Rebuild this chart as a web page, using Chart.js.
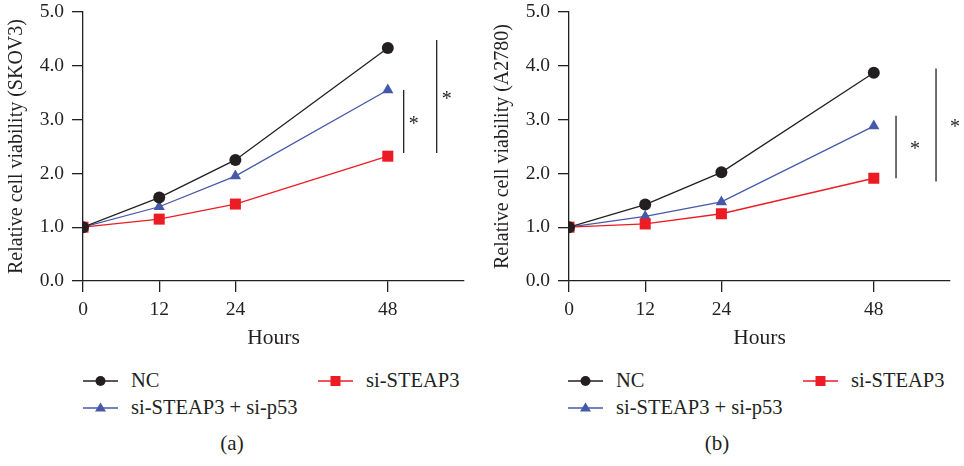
<!DOCTYPE html>
<html>
<head>
<meta charset="utf-8">
<script src="https://cdn.jsdelivr.net/npm/chart.js@4/dist/chart.umd.min.js"></script>
<style>
  body { margin: 0; background: #fff; }
  #wrap { position: relative; width: 964px; height: 466px; overflow: hidden; font-family: "Liberation Serif", "DejaVu Serif", serif; color: #231f20; }
  canvas { position: absolute; top: 0; }
  .leg { position: absolute; display: flex; align-items: center; font-size: 20.5px; white-space: nowrap; }
  .leg svg { margin-right: 13px; }
  .cap { position: absolute; font-size: 21px; transform: translateX(-50%); }
</style>
</head>
<body>
<div id="wrap">
  <canvas id="chartA" width="478" height="360" style="left:0px"></canvas>
  <canvas id="chartB" width="478" height="360" style="left:486px"></canvas>
</div>
<script>
// hours on the x axis
var hours = [0, 12, 24, 48];
var yTicks = [0, 1, 2, 3, 4, 5];

// panel (a) SKOV3
var ncA = [1.0, 1.55, 2.25, 4.33];
var dualA = [1.0, 1.38, 1.95, 3.55];
var steapA = [1.0, 1.15, 1.43, 2.32];

// panel (b) A2780
var ncB = [1.0, 1.42, 2.02, 3.87];
var dualB = [1.0, 1.20, 1.47, 2.88];
var steapB = [1.0, 1.06, 1.25, 1.91];

var seriesNames = ['NC', 'si-STEAP3 + si-p53', 'si-STEAP3'];

// significance bars: x (hours), y from / to
var sigA = [{x: 50.5, y0: 2.38, y1: 3.55}, {x: 55.7, y0: 2.38, y1: 4.48}];
var sigB = [{x: 51.5, y0: 1.91, y1: 3.07}, {x: 57.8, y0: 1.85, y1: 3.95}];

var INK = '#231f20';
var colors = ['#231f20', '#4658a8', '#ec1c24'];
var shapes = ['circle', 'triangle', 'rect'];
var radii = [6, 6.5, 7.8];

function pts(vals) {
    return hours.map(function(h, i) { return {x: h, y: vals[i]}; });
}

var sigPlugin = {
    id: 'sig',
    afterDatasetsDraw: function(chart, args, opts) {
        var ctx = chart.ctx;
        var xs = chart.scales.x, ys = chart.scales.y;
        ctx.save();
        ctx.strokeStyle = INK;
        ctx.lineWidth = 1.3;
        ctx.fillStyle = INK;
        ctx.font = '20px "Liberation Serif"';
        ctx.textAlign = 'center';
        ctx.textBaseline = 'middle';
        opts.bars.forEach(function(b) {
            var px = xs.getPixelForValue(b.x);
            var p0 = ys.getPixelForValue(b.y0), p1 = ys.getPixelForValue(b.y1);
            ctx.beginPath();
            ctx.moveTo(px, p0);
            ctx.lineTo(px, p1);
            ctx.stroke();
            ctx.fillText('*', px + opts.starDx, (p0 + p1) / 2 + 3);
        });
        ctx.restore();
    }
};

function makeChart(id, data, yTitle, bars, starDx) {
    var ctx = document.getElementById(id).getContext('2d');
    var order = [0, 2, 1];
    return new Chart(ctx, {
        type: 'line',
        data: {
            datasets: data.map(function(vals, i) {
                return {
                    label: seriesNames[i],
                    data: pts(vals),
                    borderColor: colors[i],
                    backgroundColor: colors[i],
                    borderWidth: 1.3,
                    pointStyle: shapes[i],
                    pointRadius: radii[i],
                    pointBorderWidth: 0,
                    pointBackgroundColor: colors[i],
                    order: order[i],
                    tension: 0
                };
            })
        },
        plugins: [sigPlugin],
        options: {
            responsive: false,
            animation: false,
            events: [],
            layout: { padding: { left: 0, right: 14, top: 12, bottom: 0 } },
            plugins: {
                legend: { display: false },
                tooltip: { enabled: false },
                sig: { bars: bars, starDx: starDx }
            },
            scales: {
                x: {
                    type: 'linear',
                    min: 0,
                    max: 60,
                    afterBuildTicks: function(s) {
                        s.ticks = hours.map(function(h) { return {value: h}; });
                    },
                    afterFit: function(s) { s.height = 79; s.paddingLeft = 0; s.paddingRight = 0; },
                    grid: { drawOnChartArea: false, tickLength: 11, color: INK, lineWidth: 1.3 },
                    border: { color: INK, width: 1.3 },
                    ticks: { color: INK, padding: 6, font: { family: 'Liberation Serif', size: 19.5 } },
                    title: {
                        display: true,
                        text: 'Hours',
                        color: INK,
                        font: { family: 'Liberation Serif', size: 21.5 },
                        padding: { top: 0, bottom: 9 }
                    }
                },
                y: {
                    min: 0,
                    max: 5,
                    afterBuildTicks: function(s) {
                        s.ticks = yTicks.map(function(v) { return {value: v}; });
                    },
                    afterFit: function(s) { s.width = 83; s.paddingTop = 0; s.paddingBottom = 0; },
                    grid: { drawOnChartArea: false, tickLength: 11, color: INK, lineWidth: 1.3 },
                    border: { color: INK, width: 1.3 },
                    ticks: {
                        color: INK,
                        padding: 8,
                        font: { family: 'Liberation Serif', size: 19.5 },
                        callback: function(v) { return v.toFixed(1); }
                    },
                    title: {
                        display: true,
                        text: yTitle,
                        color: INK,
                        font: { family: 'Liberation Serif', size: 20 },
                        padding: { top: 5, bottom: 0 }
                    }
                }
            }
        }
    });
}

makeChart('chartA', [ncA, dualA, steapA], 'Relative cell viability (SKOV3)', sigA, 10);
makeChart('chartB', [ncB, dualB, steapB], 'Relative cell viability (A2780)', sigB, 19);

// html legends under each panel
function markerSvg(i) {
    var c = colors[i];
    var m;
    if (shapes[i] === 'circle') m = '<circle cx="17.5" cy="8" r="5" fill="' + c + '"/>';
    else if (shapes[i] === 'triangle') m = '<polygon points="17.5,2.5 23,11.5 12,11.5" fill="' + c + '"/>';
    else m = '<rect x="12.5" y="3" width="10" height="10" fill="' + c + '"/>';
    return '<svg width="35" height="16"><line x1="0" y1="8" x2="35" y2="8" stroke="' + c + '" stroke-width="1.3"/>' + m + '</svg>';
}

var legendSlots = [
    {i: 0, dx: 83, y: 381},
    {i: 2, dx: 318, y: 381},
    {i: 1, dx: 83, y: 408}
];
var wrap = document.getElementById('wrap');
[0, 485].forEach(function(off, p) {
    legendSlots.forEach(function(s) {
        var d = document.createElement('div');
        d.className = 'leg';
        d.style.left = (off + s.dx) + 'px';
        d.style.top = (s.y - 12) + 'px';
        d.innerHTML = markerSvg(s.i) + '<span>' + seriesNames[s.i] + '</span>';
        wrap.appendChild(d);
    });
    var c = document.createElement('div');
    c.className = 'cap';
    c.style.left = (232 + off) + 'px';
    c.style.top = '431px';
    c.textContent = p === 0 ? '(a)' : '(b)';
    wrap.appendChild(c);
});
</script>
</body>
</html>
